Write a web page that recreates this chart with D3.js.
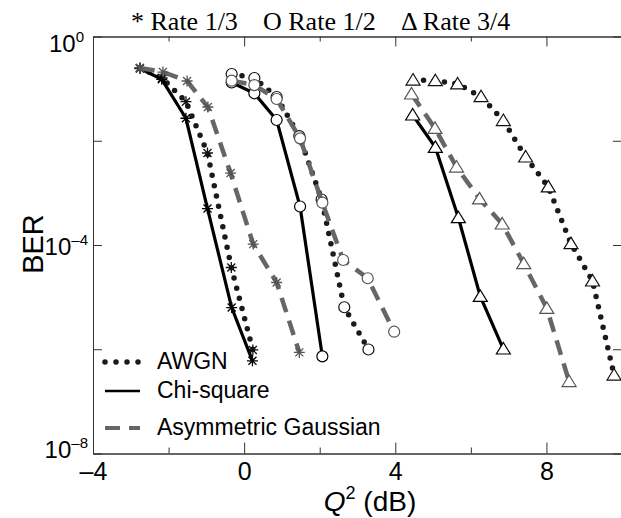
<!DOCTYPE html>
<html>
<head>
<meta charset="utf-8">
<script src="https://cdn.jsdelivr.net/npm/d3@7"></script>
<style>
  body { margin: 0; background: #fff; }
  svg { display: block; }
</style>
</head>
<body>
<div id="chart"></div>
<script>
// BER vs Q^2 for three code rates and three noise models
var rates = ["1/3", "1/2", "3/4"];
var models = ["AWGN", "Chi-square", "Asymmetric Gaussian"];

// rate 1/3 (asterisks)
var q13Awgn = [-2.76, -2.17, -1.54, -0.97, -0.34, 0.23];
var ber13Awgn = [0.249, 0.160, 0.0561, 5.82e-3, 3.70e-5, 9.7e-7];
var q13Chi = [-2.76, -2.18, -1.54, -0.97, -0.33, 0.22];
var ber13Chi = [0.243, 0.151, 0.0270, 5.0e-4, 6.3e-6, 6.0e-7];
var q13Asym = [-2.76, -2.15, -1.51, -0.96, -0.36, 0.24, 0.86, 1.46];
var ber13Asym = [0.249, 0.208, 0.140, 0.0444, 2.40e-3, 1.04e-4, 1.91e-5, 8.7e-7];

// rate 1/2 (circles)
var q12Awgn = [-0.33, 0.27, 0.86, 1.46, 2.05, 2.65, 3.29];
var ber12Awgn = [0.191, 0.160, 0.0690, 0.0123, 7.46e-4, 6.4e-6, 9.9e-7];
var q12Chi = [-0.33, 0.27, 0.86, 1.48, 2.07];
var ber12Chi = [0.131, 0.0813, 0.0250, 5.48e-4, 7.3e-7];
var q12Asym = [-0.33, 0.27, 0.86, 1.48, 2.07, 2.62, 3.27, 3.97];
var ber12Asym = [0.142, 0.117, 0.0632, 0.0111, 6.49e-4, 5.15e-5, 2.30e-5, 2.17e-6];

// rate 3/4 (triangles)
var q34Awgn = [4.47, 5.06, 5.65, 6.27, 6.86, 7.45, 8.05, 8.65, 9.22, 9.79];
var ber34Awgn = [0.146, 0.142, 0.123, 0.070, 0.0244, 4.88e-3, 1.30e-3, 1.06e-4, 2.04e-5, 3.2e-7];
var q34Chi = [4.46, 5.06, 5.67, 6.25, 6.86];
var ber34Chi = [0.0312, 7.48e-3, 3.34e-4, 1.03e-5, 1.01e-6];
var q34Asym = [4.43, 5.05, 5.62, 6.23, 6.83, 7.40, 8.01, 8.60];
var ber34Asym = [0.0789, 0.0173, 3.13e-3, 7.69e-4, 2.53e-4, 4.38e-5, 6.10e-6, 2.4e-7];

var xMajor = [-4, 0, 4, 8];
var xMinor = [-2, 2, 6];
var yTicks = [1, 1e-2, 1e-4, 1e-6, 1e-8];
var yLabels = [{ v: 1, e: "0" }, { v: 1e-4, e: "\u20134" }, { v: 1e-8, e: "\u20138" }];

function pairs(qs, bers) {
    return qs.map(function (q, i) { return { q: q, ber: bers[i] }; });
}

// draw order: AWGN, chi-square, asymmetric gaussian per rate
var series = [
    { rate: "1/3", model: "AWGN", pts: pairs(q13Awgn, ber13Awgn) },
    { rate: "1/3", model: "Chi-square", pts: pairs(q13Chi, ber13Chi) },
    { rate: "1/3", model: "Asymmetric Gaussian", pts: pairs(q13Asym, ber13Asym) },
    { rate: "1/2", model: "AWGN", pts: pairs(q12Awgn, ber12Awgn) },
    { rate: "1/2", model: "Chi-square", pts: pairs(q12Chi, ber12Chi) },
    { rate: "1/2", model: "Asymmetric Gaussian", pts: pairs(q12Asym, ber12Asym) },
    { rate: "3/4", model: "AWGN", pts: pairs(q34Awgn, ber34Awgn) },
    { rate: "3/4", model: "Chi-square", pts: pairs(q34Chi, ber34Chi) },
    { rate: "3/4", model: "Asymmetric Gaussian", pts: pairs(q34Asym, ber34Asym) }
];

var width = 621, height = 518;
// plot box (note: "top" is reserved on window, so use px* names)
var pxLeft = 93, pxRight = 622, pxTop = 36.5, pxBottom = 453.5;
var sans = "'Liberation Sans', Arial, Helvetica, sans-serif";
var serif = "'Liberation Serif', 'Times New Roman', serif";
var axisColor = "#333";

// line styles for each noise model
var styles = {
    "AWGN": { stroke: "#1a1a1a", width: 5.5, dash: "0 10.5", cap: "round", mark: "#111" },
    "Chi-square": { stroke: "#000", width: 3.2, dash: null, cap: "butt", mark: "#000" },
    "Asymmetric Gaussian": { stroke: "#666", width: 4.5, dash: "15 9", cap: "butt", mark: "#555" }
};

var svg = d3.select("#chart").append("svg")
    .attr("width", width)
    .attr("height", height);

var x = d3.scaleLinear().domain([-4, 10]).range([pxLeft, pxRight]);
var y = d3.scaleLog().domain([1e-8, 1]).range([pxBottom, pxTop]);

// axes, ticks pointing inwards
function styleAxis(g) {
    g.selectAll("path.domain").attr("stroke", axisColor).attr("stroke-width", 1);
    g.selectAll(".tick line").attr("stroke", axisColor).attr("stroke-width", 1);
}

svg.append("g").attr("transform", "translate(0," + pxBottom + ")")
    .call(d3.axisBottom(x).tickValues(xMinor).tickSizeInner(-6).tickSizeOuter(0).tickFormat(""))
    .call(styleAxis);
svg.append("g").attr("transform", "translate(0," + pxBottom + ")")
    .call(d3.axisBottom(x).tickValues(xMajor).tickSizeInner(-11).tickSizeOuter(0)
        .tickPadding(8).tickFormat(function (d) { return d < 0 ? "\u2013" + Math.abs(d) : d; }))
    .call(styleAxis)
    .call(function (g) {
        g.selectAll("text").attr("font-family", sans).attr("font-size", 25)
            .attr("fill", "#000").attr("dy", "0.74em");
    });

svg.append("g").attr("transform", "translate(0," + pxTop + ")")
    .call(d3.axisTop(x).tickValues(xMinor).tickSizeInner(-5).tickSizeOuter(0).tickFormat(""))
    .call(styleAxis);
svg.append("g").attr("transform", "translate(0," + pxTop + ")")
    .call(d3.axisTop(x).tickValues(xMajor).tickSizeInner(-10).tickSizeOuter(0).tickFormat(""))
    .call(styleAxis);

svg.append("g").attr("transform", "translate(" + pxLeft + ",0)")
    .call(d3.axisLeft(y).tickValues(yTicks).tickSizeInner(-9).tickSizeOuter(0).tickFormat(""))
    .call(styleAxis);
svg.append("g").attr("transform", "translate(" + pxRight + ",0)")
    .call(d3.axisRight(y).tickValues(yTicks).tickSizeInner(-9).tickSizeOuter(0).tickFormat(""))
    .call(styleAxis);

// y labels as 10^n with superscripts
yLabels.forEach(function (d, i) {
    var t = svg.append("text")
        .attr("x", i === 0 ? 84 : 88)
        .attr("y", y(d.v) + 15 - 5.5 * i)
        .attr("text-anchor", "end")
        .attr("font-family", sans)
        .attr("font-size", 24)
        .attr("fill", "#000");
    t.append("tspan").text("10");
    t.append("tspan").attr("dy", -10).attr("font-size", 15).text(d.e);
});

svg.append("text")
    .attr("transform", "translate(43,244) rotate(-90)")
    .attr("text-anchor", "middle")
    .attr("font-family", sans)
    .attr("font-size", 29)
    .text("BER");

var xl = svg.append("text")
    .attr("x", 370)
    .attr("y", 511)
    .attr("text-anchor", "middle")
    .attr("font-family", sans)
    .attr("font-size", 28);
xl.append("tspan").attr("font-style", "italic").text("Q");
xl.append("tspan").attr("dy", -12).attr("font-size", 18).text("2");
xl.append("tspan").attr("dy", 12).text(" (dB)");

// title line
var titleParts = [
    { label: "* Rate " + rates[0], x: 131 },
    { label: "O Rate " + rates[1], x: 263 },
    { label: "\u0394 Rate " + rates[2], x: 401 }
];
svg.selectAll("text.title").data(titleParts).enter().append("text")
    .attr("class", "title")
    .attr("x", function (d) { return d.x; })
    .attr("y", 30)
    .attr("font-family", serif)
    .attr("font-size", 26)
    .text(function (d) { return d.label; });

// markers
function drawMarker(g, rate, color) {
    if (rate === "1/3") {
        var s = 5.5, s2 = 4;
        g.append("path")
            .attr("d", "M" + (-s) + ",0L" + s + ",0M0," + (-s) + "L0," + s +
                "M" + (-s2) + "," + (-s2) + "L" + s2 + "," + s2 +
                "M" + (-s2) + "," + s2 + "L" + s2 + "," + (-s2))
            .attr("stroke", color).attr("stroke-width", 1.3).attr("fill", "none");
    } else if (rate === "1/2") {
        g.append("circle").attr("r", 5.5)
            .attr("fill", "#fff").attr("stroke", color).attr("stroke-width", 1.2);
    } else {
        g.append("path").attr("d", "M0,-6.5L7,5L-7,5Z")
            .attr("fill", "#fff").attr("stroke", color).attr("stroke-width", 1.2);
    }
}

var line = d3.line()
    .x(function (d) { return x(d.q); })
    .y(function (d) { return y(d.ber); });

var plot = svg.append("g");
series.forEach(function (s) {
    var st = styles[s.model];
    plot.append("path")
        .datum(s.pts)
        .attr("d", line)
        .attr("fill", "none")
        .attr("stroke", st.stroke)
        .attr("stroke-width", st.width)
        .attr("stroke-linecap", st.cap)
        .attr("stroke-dasharray", st.dash);
    s.pts.forEach(function (p) {
        var g = plot.append("g")
            .attr("transform", "translate(" + x(p.q) + "," + y(p.ber) + ")");
        drawMarker(g, s.rate, st.mark);
    });
});

// legend
var legendRows = [
    { model: models[0], y: 369 },
    { model: models[1], y: 398 },
    { model: models[2], y: 435 }
];
legendRows.forEach(function (r) {
    var st = styles[r.model];
    svg.append("line")
        .attr("x1", 105).attr("x2", r.model === "AWGN" ? 139 : 140)
        .attr("y1", r.y - 7).attr("y2", r.y - 7)
        .attr("stroke", st.stroke)
        .attr("stroke-width", r.model === "AWGN" ? 5.5 : (r.model === "Chi-square" ? 2.5 : 4))
        .attr("stroke-linecap", st.cap)
        .attr("stroke-dasharray", r.model === "AWGN" ? "0 11" : st.dash);
    svg.append("text")
        .attr("x", 157)
        .attr("y", r.y)
        .attr("font-family", sans)
        .attr("font-size", 23)
        .text(r.model);
});
</script>
</body>
</html>
